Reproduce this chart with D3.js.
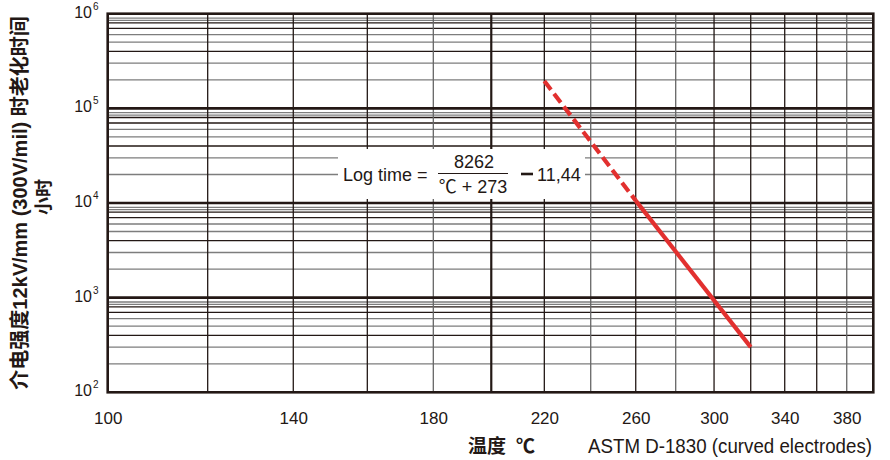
<!DOCTYPE html>
<html><head><meta charset="utf-8">
<script src="https://cdn.jsdelivr.net/npm/d3@7"></script>
<style>
html,body{margin:0;padding:0;background:#fff;}
svg{display:block;}
text{font-family:"Liberation Sans","Noto Sans CJK SC",sans-serif;fill:#231815;}
</style></head>
<body><svg id="c" width="890" height="460"></svg>
<script>
// ---- data ----
const gridTemps = [100,120,140,160,180,200,220,240,260,280,300,320,340,360,380,400];
const xLabelTemps = [100,140,180,220,260,300,340,380];
const yDecades = [1e2,1e3,1e4,1e5,1e6];
const yExponents = ["2","3","4","5","6"];
const minorMultipliers = [2,3,4,5,6,7,8,8.5,9];
const dashedTemps = [220,260];
const dashedHours = [194600,10600];
const solidTemps = [260,320];
const solidHours = [10600,300];
const xTitleMain = "温度";
const xTitleUnit = "℃";
const yTitle1 = "介电强度12kV/mm (300V/mil) 时老化时间";
const yTitle2 = "小时";
const noteText = "ASTM D-1830 (curved electrodes)";

// ---- layout (non-uniform temperature axis of the printed chart) ----
const stopFrac = [0,0.1306,0.2424,0.3391,0.4253,0.5010,0.5703,0.6309,0.6897,0.7419,0.7920,0.8399,0.8843,0.9261,0.9653,1];
const darkV = {200:"thick",180:"gray",240:"gray",280:"gray",380:"gray"};
const darkMinor = {4:true,7:true,8:true};
const L = 107.7, R = 873.3, T = 13.7, B = 392.3;
const W = R - L;
const ink = "#231815", gray = "#7d7d7d", red = "#e2302f";

const svg = d3.select("#c");
const x = d3.scaleLinear().domain(gridTemps).range(stopFrac.map(f => L + f*W));
const y = d3.scaleLog().domain([1e2,1e6]).range([B, T]);

const g = svg.append("g");

// minor horizontal lines
const minors = [];
yDecades.slice(0,-1).forEach(d => minorMultipliers.forEach(m => minors.push({v:d*m, m})));
g.selectAll(".hmin").data(minors).enter().append("line")
  .attr("x1", L).attr("x2", R)
  .attr("y1", d => y(d.v)).attr("y2", d => y(d.v))
  .attr("stroke", d => darkMinor[d.m] ? ink : gray)
  .attr("stroke-width", 1.3);

// vertical lines
g.selectAll(".v").data(gridTemps.slice(1,-1)).enter().append("line")
  .attr("x1", d => x(d)).attr("x2", d => x(d))
  .attr("y1", T).attr("y2", B)
  .attr("stroke", d => darkV[d] === "gray" ? "#666" : ink)
  .attr("stroke-width", d => darkV[d] === "thick" ? 2.2 : 1.3);

// major horizontal lines
g.selectAll(".hmaj").data(yDecades.slice(1,-1)).enter().append("line")
  .attr("x1", L).attr("x2", R)
  .attr("y1", d => y(d)).attr("y2", d => y(d))
  .attr("stroke", ink).attr("stroke-width", 2.6);

// frame
g.append("rect").attr("x", L).attr("y", T).attr("width", W).attr("height", B - T)
  .attr("fill", "none").attr("stroke", ink).attr("stroke-width", 2.6);

// equation box
g.append("rect").attr("x", 338).attr("y", 149).attr("width", 247).attr("height", 50).attr("fill", "#fff");
const eq = g.append("g").style("font-size", "18px");
eq.append("text").attr("x", 343).attr("y", 181).text("Log time =");
eq.append("text").attr("x", 474).attr("y", 168).attr("text-anchor", "middle").text("8262");
eq.append("line").attr("x1", 438).attr("x2", 508).attr("y1", 173.5).attr("y2", 173.5).attr("stroke", ink).attr("stroke-width", 1);
eq.append("text").attr("x", 473).attr("y", 193).attr("text-anchor", "middle").text("℃ + 273");
eq.append("line").attr("x1", 521).attr("x2", 533).attr("y1", 174).attr("y2", 174).attr("stroke", ink).attr("stroke-width", 2.6);
eq.append("text").attr("x", 537).attr("y", 181).text("11,44");

// red line
const line = d3.line().x(d => x(d[0])).y(d => y(d[1]));
g.append("path").datum(dashedTemps.map((t,i) => [t, dashedHours[i]]))
  .attr("d", line).attr("fill", "none").attr("stroke", red).attr("stroke-width", 4.2)
  .attr("stroke-dasharray", "11,5");
g.append("path").datum(solidTemps.map((t,i) => [t, solidHours[i]]))
  .attr("d", line).attr("fill", "none").attr("stroke", red).attr("stroke-width", 4.2);

// x axis labels
const xAxis = d3.axisBottom(x).tickValues(xLabelTemps).tickSize(0).tickPadding(20).tickFormat(d3.format("d"));
const xa = svg.append("g").attr("transform", `translate(0,${B})`).call(xAxis);
xa.select(".domain").remove();
xa.selectAll("text").style("font-size", "17px").style("fill", ink)
  .style("font-family", "'Liberation Sans',sans-serif");

// y axis labels
const yl = svg.append("g").selectAll("text").data(yDecades).enter().append("text")
  .attr("x", 92).attr("y", d => y(d) + 4).attr("text-anchor", "end").style("font-size", "16px");
yl.text("10");
yl.append("tspan").attr("x", 93).attr("dy", -8).style("font-size", "10px").attr("text-anchor", "start")
  .text((d,i) => yExponents[i]);

// titles
svg.append("text").attr("x", 468).attr("y", 453)
  .style("font-size", "19px").style("font-weight", "bold").text(xTitleMain);
svg.append("text").attr("x", 516).attr("y", 453)
  .style("font-size", "19px").style("font-weight", "bold").text(xTitleUnit);
svg.append("text").attr("x", 588).attr("y", 453).style("font-size", "20px")
  .attr("textLength", 284).attr("lengthAdjust", "spacingAndGlyphs").text(noteText);
svg.append("text").attr("transform", `translate(27,${(T+B)/2}) rotate(-90)`).attr("text-anchor", "middle")
  .style("font-size", "20px").style("font-weight", "bold").text(yTitle1);
svg.append("text").attr("transform", `translate(50,${(T+B)/2 - 6}) rotate(-90)`).attr("text-anchor", "middle")
  .style("font-size", "18px").style("font-weight", "bold").text(yTitle2);
</script></body></html>
